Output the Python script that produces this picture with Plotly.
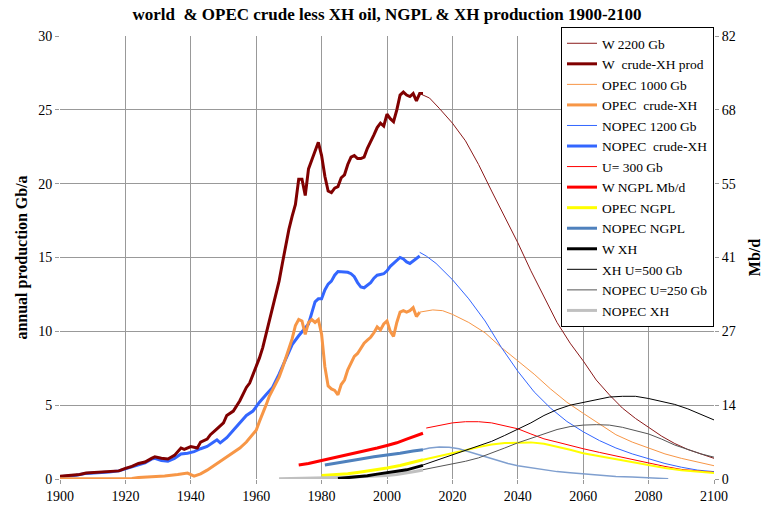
import plotly.graph_objects as go

# ---- world crude less XH (history) ----
w_crude_years = [1900, 1903, 1906, 1908, 1912, 1915, 1918, 1920, 1922, 1924, 1926, 1928, 1929,
                 1931, 1933, 1935, 1937, 1938, 1940, 1942, 1943, 1945, 1946, 1948, 1950, 1951,
                 1953, 1955, 1957, 1958, 1960, 1961, 1962, 1963, 1964, 1965, 1966, 1967, 1968,
                 1969, 1970, 1971, 1972, 1973, 1974, 1975, 1976, 1977, 1978, 1979, 1980, 1981,
                 1982, 1983, 1984, 1985, 1986, 1987, 1988, 1989, 1990, 1991, 1992, 1993, 1994,
                 1995, 1996, 1997, 1998, 1999, 2000, 2001, 2002, 2003, 2004, 2005, 2006, 2007,
                 2008, 2009, 2010, 2011]
w_crude = [0.18, 0.22, 0.3, 0.4, 0.45, 0.5, 0.55, 0.72, 0.85, 1.05, 1.15, 1.4, 1.5,
           1.4, 1.35, 1.6, 2.1, 2.0, 2.2, 2.1, 2.5, 2.7, 3.0, 3.4, 3.8, 4.3,
           4.6, 5.3, 6.2, 6.5, 7.6, 8.2, 8.9, 9.8, 10.6, 11.6, 12.5, 13.4, 14.6,
           15.9, 16.9, 17.8, 18.6, 20.3, 20.3, 19.2, 21.0, 21.6, 22.2, 22.8, 21.9, 20.5,
           19.5, 19.4, 19.7, 19.8, 20.4, 20.6, 21.3, 21.8, 21.9, 21.7, 21.7, 21.8, 22.4,
           22.8, 23.3, 23.8, 24.1, 23.9, 24.7, 24.4, 24.2, 25.0, 26.0, 26.2, 26.0, 25.9,
           26.1, 25.6, 26.1, 26.1]

# ---- world 2200 Gb forecast ----
w_fc_years = [2010, 2013, 2016, 2020, 2024, 2028, 2032, 2036, 2040, 2044, 2048, 2052, 2056,
              2060, 2064, 2068, 2072, 2076, 2080, 2084, 2088, 2092, 2096, 2100]
w_fc = [26.1, 25.8, 25.1, 24.1, 22.9, 21.3, 19.5, 17.8, 16.0, 14.1, 12.3, 10.6, 9.2,
        8.0, 6.7, 5.7, 4.8, 4.1, 3.5, 2.9, 2.4, 2.0, 1.7, 1.4]

# ---- OPEC crude less XH (history) ----
opec_years = [1900, 1922, 1924, 1928, 1932, 1936, 1939, 1941, 1943, 1945, 1947, 1949, 1951,
              1953, 1955, 1957, 1959, 1960, 1961, 1962, 1963, 1964, 1965, 1966, 1967, 1968,
              1969, 1970, 1971, 1972, 1973, 1974, 1975, 1976, 1977, 1978, 1979, 1980, 1981,
              1982, 1983, 1984, 1985, 1986, 1987, 1988, 1989, 1990, 1991, 1992, 1993, 1994,
              1995, 1996, 1997, 1998, 1999, 2000, 2001, 2002, 2003, 2004, 2005, 2006, 2007,
              2008, 2009, 2010]
opec = [0.02, 0.03, 0.1, 0.15, 0.2, 0.3, 0.4, 0.2, 0.35, 0.6, 0.9, 1.2, 1.5,
        1.75, 2.1, 2.5, 3.0, 3.3, 3.9, 4.4, 5.0, 5.6, 6.0, 6.4, 6.9, 7.5,
        8.2, 8.9, 9.5, 10.4, 10.8, 10.7, 9.8, 10.6, 10.8, 10.6, 10.8, 9.8, 7.6,
        6.3, 6.1, 6.0, 5.7, 6.4, 6.7, 7.4, 7.9, 8.3, 8.5, 8.9, 9.2, 9.4,
        9.6, 9.9, 10.3, 10.1, 10.5, 10.7, 10.0, 9.65, 10.6, 11.3, 11.4, 11.3, 11.4,
        11.6, 11.0, 11.3]

# ---- OPEC 1000 Gb forecast ----
opec_fc_years = [2010, 2014, 2017, 2020, 2025, 2030, 2035, 2040, 2045, 2050, 2055, 2060,
                 2065, 2070, 2075, 2080, 2085, 2090, 2095, 2100]
opec_fc = [11.3, 11.45, 11.4, 11.15, 10.6, 9.9, 8.9, 8.0, 7.1, 6.1, 5.2, 4.45,
           3.7, 3.0, 2.5, 2.1, 1.7, 1.4, 1.15, 0.9]

# ---- NOPEC crude less XH (history) ----
nopec_years = [1900, 1905, 1908, 1912, 1915, 1918, 1920, 1922, 1924, 1926, 1928, 1929, 1931,
               1933, 1935, 1937, 1939, 1941, 1943, 1945, 1947, 1948, 1949, 1951, 1953, 1955,
               1957, 1959, 1961, 1963, 1965, 1967, 1969, 1971, 1973, 1975, 1976, 1977, 1978,
               1979, 1980, 1981, 1982, 1983, 1984, 1985, 1987, 1988, 1989, 1990, 1991, 1992,
               1993, 1994, 1995, 1996, 1997, 1998, 1999, 2000, 2001, 2002, 2003, 2004, 2005,
               2006, 2007, 2008, 2009, 2010]
nopec = [0.15, 0.25, 0.38, 0.42, 0.48, 0.55, 0.7, 0.85, 1.0, 1.1, 1.35, 1.4, 1.25,
         1.2, 1.4, 1.7, 1.75, 1.85, 2.05, 2.2, 2.5, 2.65, 2.45, 2.8, 3.3, 3.8,
         4.3, 4.6, 5.2, 5.7, 6.2, 7.1, 8.1, 9.1, 9.7, 10.2, 10.5, 11.25, 12.0,
         12.2, 12.2, 12.8, 13.2, 13.4, 13.8, 14.05, 14.05, 14.0, 13.9, 13.7, 13.3, 13.0,
         12.95, 13.1, 13.3, 13.6, 13.8, 13.85, 13.9, 14.1, 14.4, 14.6, 14.8, 15.0, 14.9,
         14.7, 14.6, 14.75, 14.9, 15.1]

# ---- NOPEC 1200 Gb forecast ----
nopec_fc_years = [2010, 2012, 2015, 2020, 2025, 2030, 2035, 2040, 2045, 2050, 2055, 2060,
                  2065, 2070, 2075, 2080, 2085, 2090, 2095, 2100]
nopec_fc = [15.35, 15.1, 14.6, 13.5, 12.2, 10.7, 8.9, 7.3, 5.9, 4.8, 3.9, 3.2,
            2.6, 2.1, 1.7, 1.35, 1.05, 0.8, 0.6, 0.5]

# ---- world NGPL ----
ngpl_years = [1973, 1976, 1980, 1984, 1988, 1991, 1994, 1997, 2000, 2003, 2006, 2008, 2011]
ngpl = [0.95, 1.05, 1.25, 1.45, 1.6, 1.75, 1.95, 2.1, 2.27, 2.45, 2.7, 2.85, 3.1]
ngpl_fc_years = [2012, 2016, 2020, 2024, 2028, 2032, 2036, 2040, 2044, 2048, 2052, 2056,
                 2060, 2065, 2070, 2075, 2080, 2085, 2090, 2095, 2100]
ngpl_fc = [3.45, 3.65, 3.8, 3.88, 3.88, 3.8, 3.62, 3.4, 3.05, 2.72, 2.5, 2.25,
           2.05, 1.8, 1.55, 1.3, 1.05, 0.85, 0.65, 0.55, 0.45]

# ---- OPEC NGPL ----
opec_ngpl_years = [1980, 1984, 1988, 1992, 1996, 2000, 2004, 2008, 2011]
opec_ngpl = [0.23, 0.28, 0.35, 0.47, 0.6, 0.75, 0.92, 1.15, 1.3]
opec_ngpl_fc_years = [2011, 2015, 2020, 2024, 2028, 2032, 2036, 2040, 2044, 2048, 2052, 2056,
                      2060, 2065, 2070, 2075, 2080, 2085, 2090, 2095, 2100]
opec_ngpl_fc = [1.3, 1.5, 1.7, 1.95, 2.16, 2.33, 2.43, 2.48, 2.48, 2.39, 2.2, 1.98,
                1.75, 1.55, 1.33, 1.12, 0.9, 0.75, 0.6, 0.5, 0.41]

# ---- NOPEC NGPL ----
nopec_ngpl_years = [1981, 1984, 1988, 1992, 1996, 2000, 2004, 2008, 2011]
nopec_ngpl = [0.95, 1.05, 1.18, 1.36, 1.5, 1.6, 1.75, 1.9, 1.98]
nopec_ngpl_fc_years = [2011, 2013, 2016, 2019, 2022, 2025, 2028, 2031, 2034, 2037, 2040, 2044,
                       2048, 2052, 2056, 2060, 2065, 2070, 2075, 2080, 2086]
nopec_ngpl_fc = [2.0, 2.1, 2.17, 2.15, 2.05, 1.85, 1.6, 1.4, 1.2, 1.05, 0.9, 0.75,
                 0.6, 0.5, 0.42, 0.34, 0.25, 0.17, 0.13, 0.1, 0.02]

# ---- world XH ----
xh_years = [1985, 1988, 1991, 1994, 1997, 2000, 2003, 2006, 2009, 2011]
xh = [0.03, 0.08, 0.15, 0.22, 0.33, 0.45, 0.52, 0.62, 0.78, 0.92]
xh_fc_years = [2011, 2015, 2020, 2024, 2028, 2032, 2036, 2040, 2044, 2048, 2052, 2056, 2060,
               2064, 2068, 2072, 2076, 2080, 2084, 2088, 2092, 2096, 2100]
xh_fc = [0.95, 1.25, 1.6, 1.9, 2.2, 2.55, 2.95, 3.35, 3.8, 4.3, 4.7, 5.0, 5.2,
         5.4, 5.55, 5.6, 5.6, 5.45, 5.25, 5.05, 4.75, 4.4, 4.0]

# ---- NOPEC XH ----
nopec_xh_years = [1967, 1975, 1980, 1985, 1990, 1995, 2000, 2003, 2006, 2009, 2011]
nopec_xh = [0.02, 0.04, 0.07, 0.1, 0.13, 0.17, 0.23, 0.3, 0.39, 0.52, 0.61]
nopec_xh_fc_years = [2011, 2015, 2020, 2024, 2028, 2032, 2036, 2040, 2044, 2048, 2052, 2056,
                     2060, 2064, 2068, 2072, 2076, 2080, 2084, 2088, 2092, 2096, 2100]
nopec_xh_fc = [0.63, 0.8, 1.0, 1.2, 1.43, 1.75, 2.1, 2.45, 2.75, 3.07, 3.35, 3.55,
               3.65, 3.68, 3.65, 3.5, 3.3, 3.05, 2.7, 2.3, 2.0, 1.7, 1.48]

# left axis ticks and the matching Mb/d labels on the right
left_ticks = [0, 5, 10, 15, 20, 25, 30]
right_labels = ["0", "14", "27", "41", "55", "68", "82"]
x_ticks = list(range(1900, 2101, 20))

NB = "\u00a0"
FONT = "Liberation Serif, Times New Roman, serif"

# (name, x, y, colour, width, legend rank or None); drawn in list order
series = [
    ("NOPEC" + NB + " crude-XH", nopec_years, nopec, "#3366FF", 3, 6),
    ("W" + NB + " crude-XH prod", w_crude_years, w_crude, "#800000", 3, 2),
    ("W 2200 Gb", w_fc_years, w_fc, "#8B1A1A", 1, 1),
    ("OPEC 1000 Gb", opec_fc_years, opec_fc, "#F79646", 1, 3),
    ("OPEC" + NB + " crude-XH", opec_years, opec, "#F79646", 3, 4),
    ("NOPEC 1200 Gb", nopec_fc_years, nopec_fc, "#3366FF", 1, 5),
    ("U= 300 Gb", ngpl_fc_years, ngpl_fc, "#FF0000", 1, 7),
    ("W NGPL Mb/d", ngpl_years, ngpl, "#FF0000", 3, 8),
    ("OPEC NGPL", opec_ngpl_years, opec_ngpl, "#FFFF00", 3, 9),
    ("NOPEC NGPL", nopec_ngpl_years, nopec_ngpl, "#4F81BD", 3, 10),
    ("OPEC NGPL fc", opec_ngpl_fc_years, opec_ngpl_fc, "#FFFF00", 2, None),
    ("NOPEC NGPL fc", nopec_ngpl_fc_years, nopec_ngpl_fc, "#7F9FCF", 1.5, None),
    ("NOPEC XH", nopec_xh_years, nopec_xh, "#C0C0C0", 3, 14),
    ("NOPEC U=250 Gb", nopec_xh_fc_years, nopec_xh_fc, "#555555", 1, 13),
    ("W XH", xh_years, xh, "#000000", 3, 11),
    ("XH U=500 Gb", xh_fc_years, xh_fc, "#000000", 1, 12),
]

fig = go.Figure()
for name, xs, ys, col, w, rank in series:
    fig.add_trace(go.Scatter(x=xs, y=ys, mode="lines", name=name,
                             line=dict(color=col, width=w),
                             showlegend=rank is not None,
                             legendrank=rank if rank is not None else 1000))

# right-hand Mb/d axis (same scale, relabelled)
fig.add_trace(go.Scatter(x=w_crude_years, y=w_crude, mode="lines", yaxis="y2",
                         line=dict(color="rgba(0,0,0,0)", width=0), showlegend=False,
                         hoverinfo="skip"))

W, H = 763, 512
fig.update_layout(
    width=W, height=H,
    margin=dict(l=60, r=49, t=36, b=33),
    paper_bgcolor="white", plot_bgcolor="white",
    font=dict(family=FONT, size=14, color="black"),
    title=dict(text="world" + NB + " & OPEC crude less XH oil, NGPL & XH production 1900-2100",
               x=0.5, xref="paper", y=1 - 14 / H, yanchor="middle",
               font=dict(family=FONT, size=17, weight="bold")),
    xaxis=dict(range=[1900, 2100], tickvals=x_ticks, showgrid=True, gridcolor="#999999",
               gridwidth=1, ticks="outside", ticklen=4, tickcolor="#999999",
               zeroline=False, showline=False, automargin=False,
               tickfont=dict(family=FONT, size=14)),
    yaxis=dict(range=[0, 30], tickvals=left_ticks, showgrid=True, gridcolor="#999999",
               gridwidth=1, ticks="outside", ticklen=4, tickcolor="#999999",
               zeroline=False, showline=False, automargin=False,
               tickfont=dict(family=FONT, size=14),
               title=dict(text="annual production Gb/a", standoff=6,
                          font=dict(family=FONT, size=16, weight="bold"))),
    yaxis2=dict(range=[0, 30], overlaying="y", side="right", tickvals=left_ticks,
                ticktext=right_labels, showgrid=False, ticks="outside", ticklen=4,
                tickcolor="#999999", zeroline=False, showline=False, automargin=False,
                tickfont=dict(family=FONT, size=14),
                title=dict(text="Mb/d", standoff=32,
                           font=dict(family=FONT, size=16, weight="bold"))),
    legend=dict(x=1.0, xanchor="right", y=1 + 9 / 443, yanchor="top", bgcolor="white",
                bordercolor="black", borderwidth=1, tracegroupgap=0, maxheight=340,
                font=dict(family=FONT, size=13.5)),
    showlegend=True,
)

# drop the browser's default body margin so the figure fills the window
fig.write_html("out.html", config={"displayModeBar": False},
               post_script="document.body.style.margin = '0px';")
